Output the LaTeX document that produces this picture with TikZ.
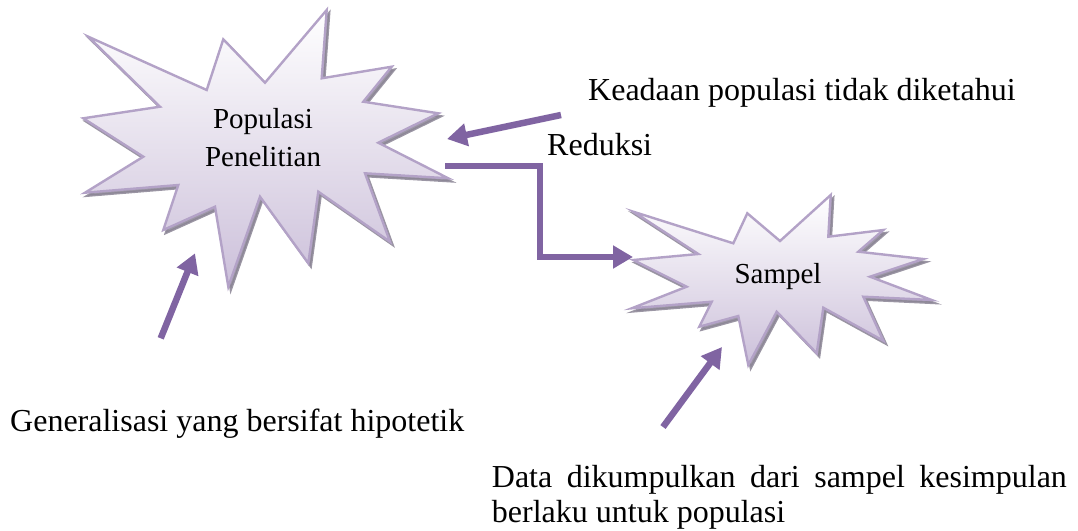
\documentclass[tikz,border=0pt]{standalone}
\usepackage{fontspec}
\setmainfont{Liberation Serif}
\usetikzlibrary{arrows.meta}
\definecolor{arrowpurple}{HTML}{8064A2}
\definecolor{starline}{HTML}{B3A2C7}
\definecolor{starbottom}{HTML}{CCC0DA}
\definecolor{starshadow}{HTML}{8A8494}
\tikzset{
  starshape/.style={draw=starline, line width=2.4pt, line join=miter, top color=white, bottom color=starbottom},
  starshade/.style={fill=starshadow, draw=starshadow, line width=2.4pt, opacity=0.85},
  bigarrow/.style={draw=arrowpurple, line width=6.5pt, line join=miter, -{Triangle[length=20pt,width=22pt]}},
  lbl/.style={inner sep=0pt, font=\fontsize{32}{35}\selectfont},
  starlbl/.style={inner sep=0pt, font=\fontsize{29}{38}\selectfont, align=center}
}
\begin{document}
\begin{tikzpicture}[x=1pt,y=-1pt]
\useasboundingbox (0,0) rectangle (1078,530);
% Populasi star
\def\starA{(88.3,36.7) -- (206.7,90) -- (223.3,39.3) -- (265,82.7) -- (326.7,10) -- (321.7,78.3) -- (391.7,66.7) -- (363.3,101.7) -- (438.3,113.3) -- (378.3,142.7) -- (448.3,178.3) -- (365,173.3) -- (390,241.7) -- (318.3,191.7) -- (308.3,263.3) -- (260,196.7) -- (228.3,286.7) -- (215,206.7) -- (163.3,230) -- (178.3,185) -- (85,192.7) -- (143.3,156.7) -- (83.3,118.3) -- (160,106.7) -- cycle}
\def\starB{(633.3,211.7) -- (733.3,243.3) -- (747.3,213.3) -- (780,241) -- (830.7,195) -- (828.3,236.7) -- (883.3,230) -- (858.3,251.7) -- (923.3,259) -- (870,276.7) -- (931.7,300) -- (863.3,296.7) -- (883.3,340.7) -- (823.3,307.7) -- (816.7,353.3) -- (776.7,311.7) -- (748.3,365) -- (738.3,316) -- (699.3,326.7) -- (711.7,301.7) -- (631.7,308.3) -- (686.7,286.7) -- (633.3,260) -- (698.3,254) -- cycle}
\begin{scope}[shift={(2.5,3)}]
  \path[starshade] \starA;
  \path[starshade] \starB;
\end{scope}
\path[starshape] \starA;
\path[starshape] \starB;
% labels
\node[starlbl] (pop) at (263,137.8) {Populasi\\Penelitian};
\node[starlbl, anchor=base] (sam) at (778,283.3) {Sampel};
\node[lbl, anchor=base west] (kead) at (588,100.7) {Keadaan populasi tidak diketahui};
\node[lbl, anchor=base west] (red) at (547,155) {Reduksi};
\node[lbl, anchor=base west] (gen) at (10,431.7) {Generalisasi yang bersifat hipotetik};
\node[lbl, anchor=north west, text width=575pt, align=justify] (data) at (491.7,465.5) {Data dikumpulkan dari sampel kesimpulan\linebreak berlaku untuk populasi};
% connector coordinates
\coordinate (k1) at (561,115);
\coordinate (k2) at (447,139);
\coordinate (r1) at (445,166);
\coordinate (rb) at (540,166);
\coordinate (r2) at (633,257);
\coordinate (g1) at (160.7,338.3);
\coordinate (g2) at (195,253.3);
\coordinate (d1) at (663,427);
\coordinate (d2) at (722,347);
% arrows
\draw[bigarrow] (k1) -- (k2);
\draw[bigarrow] (r1) -- (rb) |- (r2);
\draw[bigarrow] (g1) -- (g2);
\draw[bigarrow] (d1) -- (d2);
\end{tikzpicture}
\end{document}
